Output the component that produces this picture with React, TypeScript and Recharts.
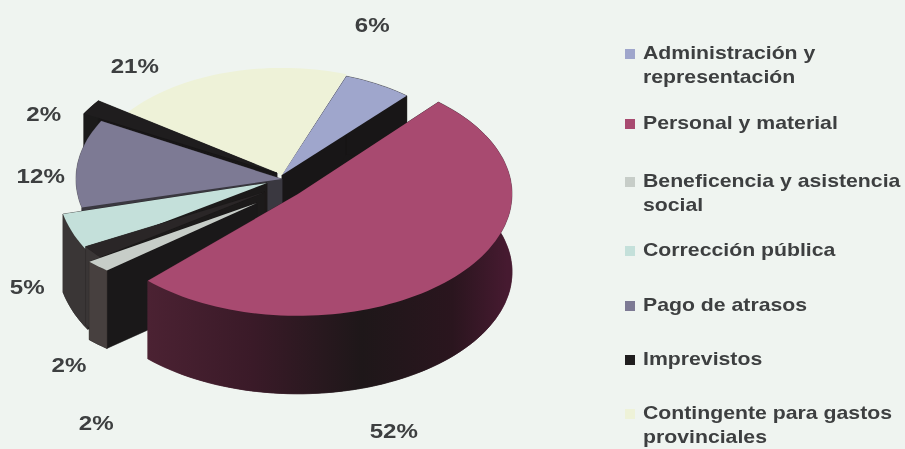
import { PieChart, Pie, Legend } from "recharts";

const categories = [
  "Administración y representación",
  "Contingente para gastos provinciales",
  "Imprevistos",
  "Pago de atrasos",
  "Corrección pública",
  "Sin nombre",
  "Beneficencia y asistencia social",
  "Personal y material",
];
const values = [6, 21, 2, 12, 5, 2, 2, 52];
const topColors = ["#9fa6cc", "#eef2d8", "#1f1d1e", "#7d7a94", "#c4e0da", "#2a2627", "#c7cdc8", "#a84a70"];
const GRAD = "url(#personalSide)";
const rimColors = ["#181617", "none", "#1b1a1a", "#3a3840", "#3a3636", "#3a3636", "#47403f", GRAD];
const wallColors = ["#181617", "none", "#181617", "#3a3840", "#1c1a1a", "#1c1a1a", "#1a1819", GRAD];

// how far each slice is pulled out of the pie, and how much bigger it looks
const explodeX = [0, 0, -5, 0, -15, -17, -25, 16];
const explodeY = [0, 0, -2, 4, 8, 17, 28, 19];
const scaleX = [0.95, 0.95, 1.1, 1.03, 1.05, 1.05, 1.07, 1.07];
const scaleY = [1, 1.02, 1.18, 1.15, 1.25, 1, 0.9, 1.16];
const labelDX = [-11, -88, -69, -43, -70, -49, -37, -35];
const labelDY = [-59, -9, -5, 15, 72, 130, 178, 185];

const legendOrder = [
  "Administración y representación",
  "Personal y material",
  "Beneficencia y asistencia social",
  "Corrección pública",
  "Pago de atrasos",
  "Imprevistos",
  "Contingente para gastos provinciales",
];
const legendTops = [41, 111, 169, 238, 293, 347, 401];

const data = categories.map((name, i) => ({ name, value: values[i] }));

const TILT = 105 / 200;
const DEPTH = 78;
const TEXT = "#3d3f40";
const STRETCH = 1.148;

const rad = (a: number) => (a * Math.PI) / 180;

const Slice3D = (props: any) => {
  const i = categories.indexOf(props.payload?.name ?? props.name);
  const cx = props.cx + explodeX[i];
  const cy = props.cy + explodeY[i];
  const rx = props.outerRadius * scaleX[i];
  const ry = props.outerRadius * TILT * scaleY[i];
  const a1 = Math.min(props.startAngle, props.endAngle);
  const a2 = Math.max(props.startAngle, props.endAngle);
  const rim: [number, number][] = [];
  const steps = Math.max(2, Math.ceil((a2 - a1) / 2));
  for (let s = 0; s <= steps; s++) {
    const a = rad(a1 + ((a2 - a1) * s) / steps);
    rim.push([cx + rx * Math.cos(a), cy - ry * Math.sin(a)]);
  }
  const toPath = (pts: [number, number][]) => "M" + pts.map((p) => p[0].toFixed(1) + "," + p[1].toFixed(1)).join("L") + "Z";
  const down = (pts: [number, number][]) => pts.map((p) => [p[0], p[1] + DEPTH] as [number, number]);
  const first = rim[0];
  const last = rim[rim.length - 1];
  const apex: [number, number] = [cx, cy];
  const walls: [any[], string][] = [
    [[apex, ...down(rim), apex], wallColors[i]],
    [[apex, first, ...down([first, apex])], wallColors[i]],
    [[apex, last, ...down([last, apex])], wallColors[i]],
    [[...down(rim), ...[...rim].reverse()], rimColors[i]],
  ];
  return (
    <g>
      {walls.map(([w, color], k) => (
        <path key={k} d={toPath(w)} fill={color} stroke={color} strokeWidth={0.5} />
      ))}
      <path d={toPath([apex, ...rim])} fill={topColors[i]} />
    </g>
  );
};

const renderLabel = (props: any) => {
  const i = props.index;
  const a = rad(props.midAngle);
  const x = props.cx + props.outerRadius * Math.cos(a) + labelDX[i];
  const y = props.cy - props.outerRadius * TILT * Math.sin(a) + labelDY[i];
  return (
    <text
      transform={`translate(${x},${y}) scale(${STRETCH},1)`}
      textAnchor="middle"
      dominantBaseline="central"
      fontFamily="Liberation Sans"
      fontWeight="bold"
      fontSize={21}
      fill={TEXT}
    >
      {values[i]}%
    </text>
  );
};

const LegendList = () => (
  <div>
    {legendOrder.map((name, k) => (
      <div key={name} style={{ position: "absolute", left: 0, top: legendTops[k], width: 240 }}>
        <span
          style={{
            position: "absolute",
            left: 0,
            top: 8,
            width: 10,
            height: 10,
            background: topColors[categories.indexOf(name)],
          }}
        />
        <div
          style={{
            marginLeft: 18,
            width: 240,
            fontFamily: "Liberation Sans",
            fontWeight: "bold",
            fontSize: 18.5,
            lineHeight: "24px",
            color: TEXT,
            transform: `scaleX(${STRETCH})`,
            transformOrigin: "left top",
          }}
        >
          {name}
        </div>
      </div>
    ))}
  </div>
);

export default function App() {
  return (
    <div style={{ position: "fixed", left: 0, top: 0, width: 905, height: 449, background: "#eff4f0", overflow: "hidden" }}>
      <PieChart width={905} height={449} style={{ filter: "blur(0.6px)" }}>
        <defs>
          <linearGradient id="personalSide" gradientUnits="userSpaceOnUse" x1={143} y1={0} x2={507} y2={0}>
            <stop offset="0" stopColor="#4c2233" />
            <stop offset="0.3" stopColor="#3a1a28" />
            <stop offset="0.6" stopColor="#1e1719" />
            <stop offset="0.85" stopColor="#2a151e" />
            <stop offset="1" stopColor="#461a30" />
          </linearGradient>
        </defs>
        <Pie
          data={data}
          dataKey="value"
          nameKey="name"
          cx={277}
          cy={170}
          outerRadius={200}
          startAngle={49}
          endAngle={409}
          paddingAngle={0}
          shape={Slice3D}
          label={renderLabel}
          labelLine={false}
          isAnimationActive={false}
        />
        <Legend
          content={<LegendList />}
          wrapperStyle={{ position: "absolute", left: 625, top: 0, width: 270, height: 449, bottom: "auto" }}
        />
      </PieChart>
    </div>
  );
}
